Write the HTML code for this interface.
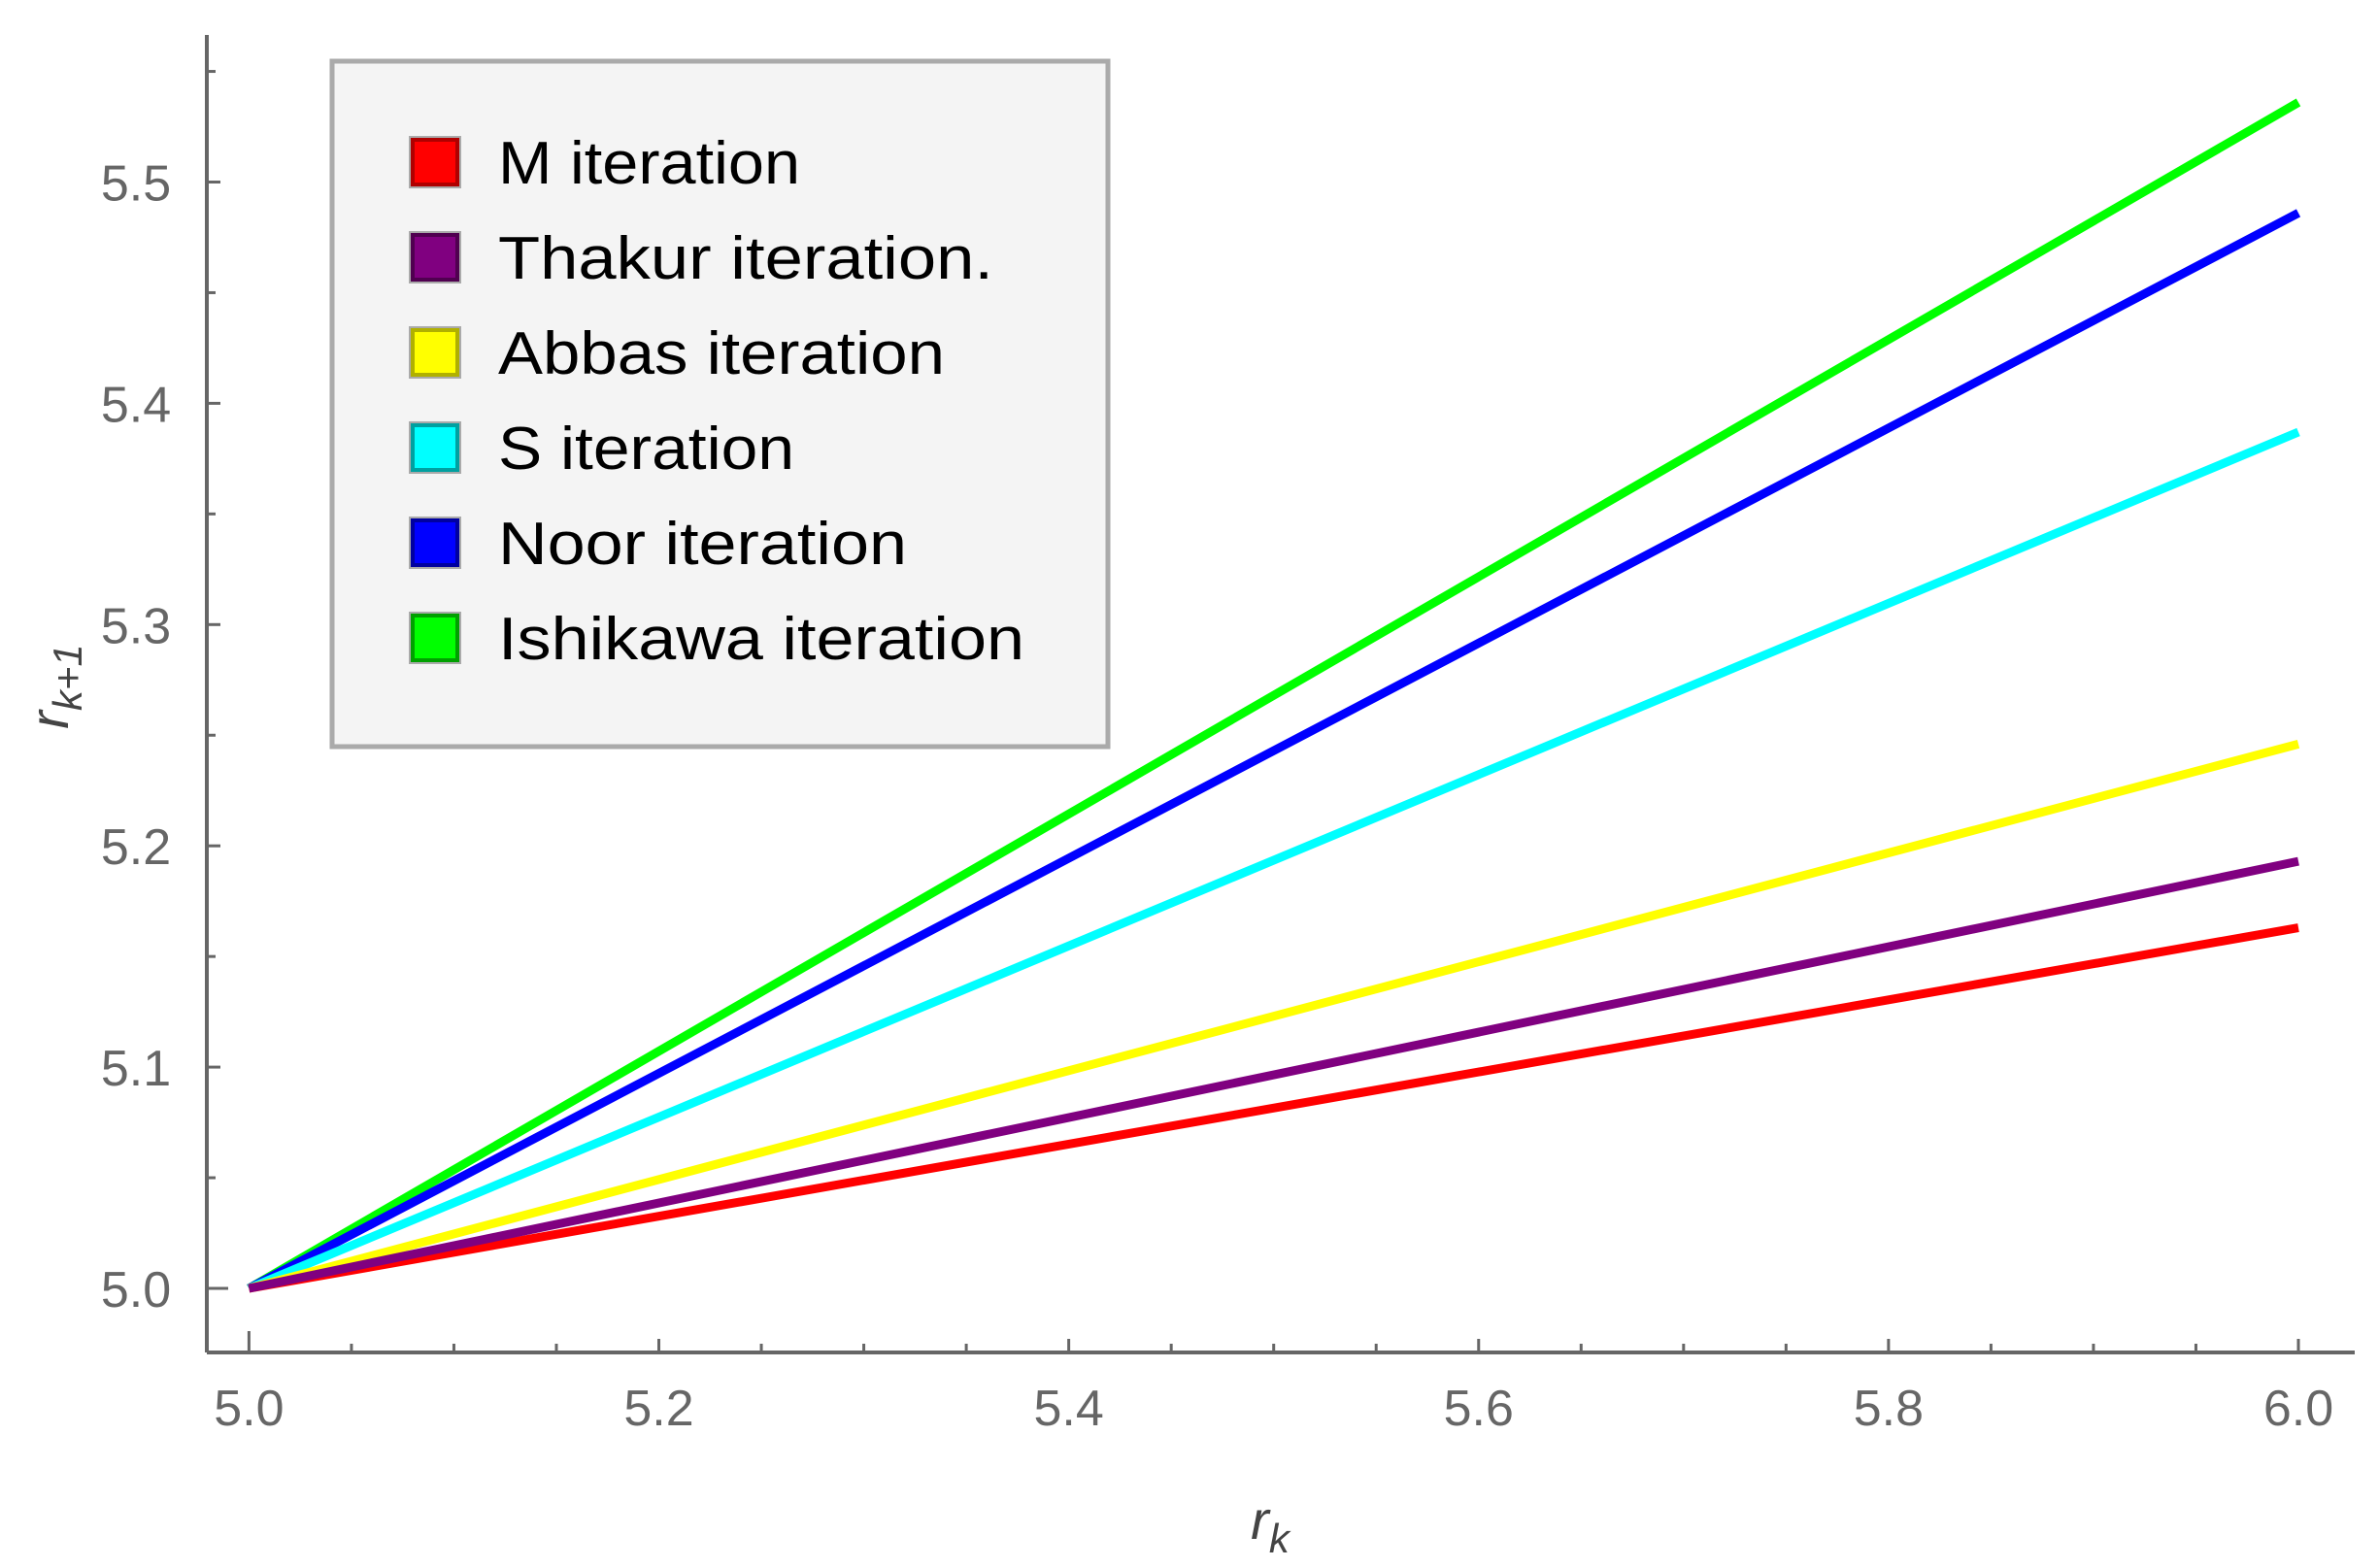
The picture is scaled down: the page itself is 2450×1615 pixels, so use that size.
<!DOCTYPE html>
<html><head><meta charset="utf-8"><style>html,body{margin:0;padding:0;background:#fff}svg{display:block}</style></head>
<body>
<svg width="2450" height="1615" viewBox="0 0 2450 1615" xmlns="http://www.w3.org/2000/svg" font-family="Liberation Sans, sans-serif">
<rect width="2450" height="1615" fill="#fff"/>
<g stroke="#666" stroke-width="4" fill="none">
<line x1="213" y1="1393" x2="2425" y2="1393"/>
<line x1="213" y1="36" x2="213" y2="1393"/>
</g>
<g id="ticks" stroke="#666" stroke-width="3"></g>
<g fill="#666" font-size="52" text-anchor="middle" id="lbl"></g>
<g stroke-width="9" stroke-linecap="butt" id="lines"></g>
<rect x="342" y="63" width="799" height="706" fill="#f4f4f4" stroke="#aaa" stroke-width="5"/>
<g id="leg" font-size="62" fill="#000"></g>
<text x="1308" y="1585" font-size="56" font-style="italic" fill="#444" text-anchor="middle">r<tspan font-size="42" dy="14">k</tspan></text>
<text transform="translate(70,707) rotate(-90)" font-size="56" font-style="italic" fill="#444" text-anchor="middle">r<tspan font-size="42" dy="14">k+1</tspan></text>
<script>
var ns="http://www.w3.org/2000/svg";
function X(v){return 256.4+(v-5)*2110.6}
function Y(v){return 1327-(v-5)*2279}
function el(p,t,a,txt){var e=document.createElementNS(ns,t);for(var k in a)e.setAttribute(k,a[k]);if(txt)e.textContent=txt;document.getElementById(p).appendChild(e);}
for(var i=-1;i<=20;i++){var v=5+i*0.05;var x=X(v);if(x<215||x>2425)continue;var maj=(i%4==0);el("ticks","line",{x1:x,y1:1393,x2:x,y2:1393-(maj?(i==0?22:14):9)});}
for(var i=-3;i<=11;i++){var v=5+i*0.05;var y=Y(v);if(y<38||y>1391)continue;var maj=(i%2==0);el("ticks","line",{x1:213,y1:y,x2:213+(maj?(i==0?22:14):9),y2:y});}
["5.0","5.2","5.4","5.6","5.8","6.0"].forEach(function(s){el("lbl","text",{x:X(+s),y:1468},s)});
["5.0","5.1","5.2","5.3","5.4","5.5"].forEach(function(s){el("lbl","text",{x:140,y:Y(+s)+19},s)});
var S=[["#ff0000",5.163],["#800080",5.193],["#ffff00",5.246],["#00ffff",5.387],["#0000ff",5.486],["#00ff00",5.536]];
[5,4,3,2,0,1].forEach(function(i){el("lines","line",{x1:X(5),y1:Y(5),x2:X(6),y2:Y(S[i][1]),stroke:S[i][0]})});
var L=[["M iteration",311,"#ff0000","#b00000"],["Thakur iteration.",510,"#800080","#500050"],["Abbas iteration",460,"#ffff00","#b0b000"],["S iteration",305,"#00ffff","#00a0a0"],["Noor iteration",421,"#0000ff","#0000a0"],["Ishikawa iteration",542,"#00ff00","#00a000"]];
L.forEach(function(l,i){var cy=167+i*98;el("leg","rect",{x:425,y:cy-23,width:46,height:46,fill:l[2],stroke:l[3],"stroke-width":4});el("leg","rect",{x:422,y:cy-26,width:52,height:52,fill:"none",stroke:"#aaa","stroke-width":2});el("leg","text",{x:513,y:cy+22,textLength:l[1],lengthAdjust:"spacingAndGlyphs"},l[0]);});
</script>
</svg>
</body></html>
